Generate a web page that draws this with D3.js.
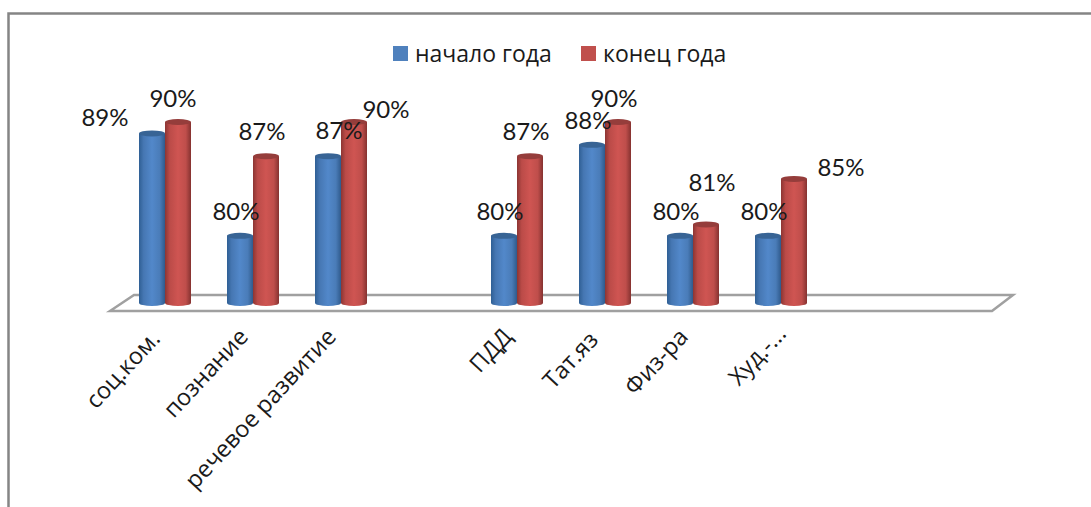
<!DOCTYPE html>
<html>
<head>
<meta charset="utf-8">
<script src="https://cdn.jsdelivr.net/npm/d3@7"></script>
<style>
  html, body { margin: 0; padding: 0; background: #fff; overflow: hidden; }
  text { font-family: Lato, "Open Sans", sans-serif; fill: #1a1a1a; }
  .axis-label, .legend-label { font-family: "Open Sans", sans-serif; }
</style>
</head>
<body>
<script>
// empty names are the blank slots on the category axis
const categories = ["соц.ком.", "познание", "речевое развитие", "", "ПДД", "Тат.яз", "Физ-ра", "Худ.-...", "", ""];
const startYear = [89, 80, 87, null, 80, 88, 80, 80, null, null];
const endYear = [90, 87, 90, null, 87, 90, 81, 85, null, null];
const seriesNames = ["начало года", "конец года"];

// label nudges from the top of each bar, the chart placed them by hand
const startLabelShift = [[-47, -7], [-4, -16], [11, -17], null, [-4, -16], [-4, -16], [-4, -16], [-4, -16]];
const endLabelShift = [[-5, -15], [-4, -16], [32, -4], null, [-4, -16], [-4, -15], [6, -33], [47, -3]];
// same for the category names
const axisLabelShift = [[0, 2], [0, 0], [0, 0], [0, 0], [0, 0], [-2, 3], [0, 0], [10, -3], [0, 0], [0, 0]];

const width = 1091, height = 507;
const svg = d3.select("body").append("svg")
    .attr("width", width)
    .attr("height", height);

const x = d3.scaleBand()
    .domain(d3.range(categories.length))
    .range([121, 1001]);
const y = d3.scaleLinear()
    .domain([74.1, 90])
    .range([303, 122]);

const barW = 26;
const ry = 3;

// gradients for the cylinders
const defs = svg.append("defs");
function cylinder(id, stops) {
    const g = defs.append("linearGradient").attr("id", id);
    stops.forEach(([o, c]) => g.append("stop").attr("offset", o).attr("stop-color", c));
}
cylinder("blue", [[0, "#2f5f94"], [0.18, "#4677b3"], [0.5, "#5288ca"], [0.8, "#4a7cb8"], [1, "#2f5a8c"]]);
cylinder("red", [[0, "#8c3533"], [0.18, "#bb4b48"], [0.5, "#cf5552"], [0.8, "#bf4e4b"], [1, "#853230"]]);

// outer frame, only the top and left edges are in the crop
svg.append("path")
    .attr("d", "M8.5,507V13.5H1091")
    .attr("fill", "none")
    .attr("stroke", "#858585")
    .attr("stroke-width", 2.5);

// floor of the 3d plot
svg.append("path")
    .attr("d", "M110,311L134,295H1013L992,311Z")
    .attr("fill", "#fff")
    .attr("stroke", "#a0a0a0")
    .attr("stroke-width", 2.5);

function drawBars(values, dx, grad, top) {
    const g = svg.append("g");
    categories.forEach((c, i) => {
        if (values[i] == null) return;
        const x0 = x(i) + x.bandwidth() / 2 + dx;
        const yTop = y(values[i]);
        g.append("path")
            .attr("d", `M${x0},${yTop}V${y.range()[0]}A${barW / 2},${ry} 0 0 0 ${x0 + barW},${y.range()[0]}V${yTop}Z`)
            .attr("fill", `url(#${grad})`);
        g.append("ellipse")
            .attr("cx", x0 + barW / 2)
            .attr("cy", yTop)
            .attr("rx", barW / 2)
            .attr("ry", ry)
            .attr("fill", top);
    });
}
drawBars(startYear, -26, "blue", "#386495");
drawBars(endYear, 0, "red", "#953d3b");

function drawLabels(values, shift, dx) {
    categories.forEach((c, i) => {
        if (values[i] == null) return;
        svg.append("text")
            .attr("x", x(i) + x.bandwidth() / 2 + dx + shift[i][0])
            .attr("y", y(values[i]) + shift[i][1])
            .attr("text-anchor", "middle")
            .attr("font-size", 24)
            .text(values[i] + "%");
    });
}
drawLabels(startYear, startLabelShift, -13);
drawLabels(endYear, endLabelShift, 13);

// category axis, labels turned about 45 degrees
const xAxis = d3.axisBottom(x)
    .tickSize(0)
    .tickFormat(i => categories[i]);
const axisG = svg.append("g")
    .attr("transform", "translate(-15,334)")
    .call(xAxis);
axisG.select(".domain").remove();
axisG.selectAll("text")
    .attr("class", "axis-label")
    .attr("font-size", 23.5)
    .attr("text-anchor", "end")
    .attr("dx", 5)
    .attr("dy", 8)
    .attr("transform", (d, i) => `translate(${axisLabelShift[i]}) rotate(-47)`);

// legend
const legendX = [393, 581];
seriesNames.forEach((name, i) => {
    svg.append("rect")
        .attr("x", legendX[i])
        .attr("y", 46)
        .attr("width", 15)
        .attr("height", 15)
        .attr("fill", i ? "#c0504d" : "#4f81bd");
    svg.append("text")
        .attr("class", "legend-label")
        .attr("x", legendX[i] + 22)
        .attr("y", 62)
        .attr("font-size", 23)
        .text(name);
});
</script>
</body>
</html>
